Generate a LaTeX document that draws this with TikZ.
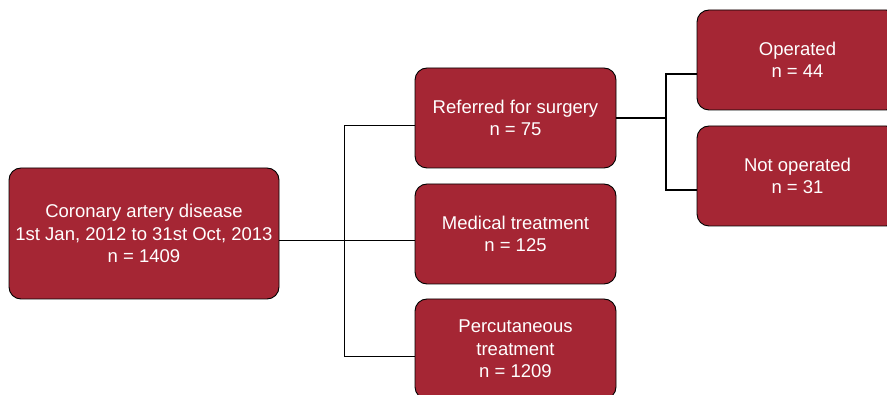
\documentclass[tikz,border=0pt]{standalone}
\usepackage{fontspec}
\setmainfont{Liberation Sans}
\definecolor{boxred}{RGB}{165,38,52}
\tikzset{
  flowbox/.style={draw=black, fill=boxred, rounded corners=12pt, text=white,
    align=center, inner sep=0pt, line width=0.9pt,
    font=\fontsize{18.5}{22.5}\selectfont},
  smallbox/.style={flowbox, minimum width=201, minimum height=100},
  thinlink/.style={line width=1pt},
  thicklink/.style={line width=2pt}
}
\begin{document}
\begin{tikzpicture}[x=1pt,y=1pt,yscale=-1,xscale=1]
\useasboundingbox (0,0) rectangle (887,395);

% Boxes
\node[flowbox, minimum width=270, minimum height=131] (cad) at (144,233.5) {Coronary artery disease\\1st Jan, 2012 to 31st Oct, 2013\\n = 1409};
\node[smallbox] (ref) at (515.5,118) {Referred for surgery\\n = 75};
\node[smallbox] (med) at (515.5,234) {Medical treatment\\n = 125};
\node[smallbox] (perc) at (515.5,349) {Percutaneous\\treatment\\n = 1209};
\node[smallbox] (op) at (797.5,60) {Operated\\n = 44};
\node[smallbox] (notop) at (797.5,176) {Not operated\\n = 31};

% Links (yshift runs downwards here, as yscale=-1)
\draw[thinlink] ([yshift=7.5pt]cad.east) -- ([yshift=7pt]med.west);
\draw[thinlink] ([yshift=8pt]ref.west) -- ++(-70,0) |- ([yshift=8pt]perc.west);
\draw[thicklink] (ref.east) -- ++(50,0);
\draw[thicklink] ([yshift=14pt]op.west) -- ++(-31,0) |- ([yshift=14pt]notop.west);

\end{tikzpicture}
\end{document}
